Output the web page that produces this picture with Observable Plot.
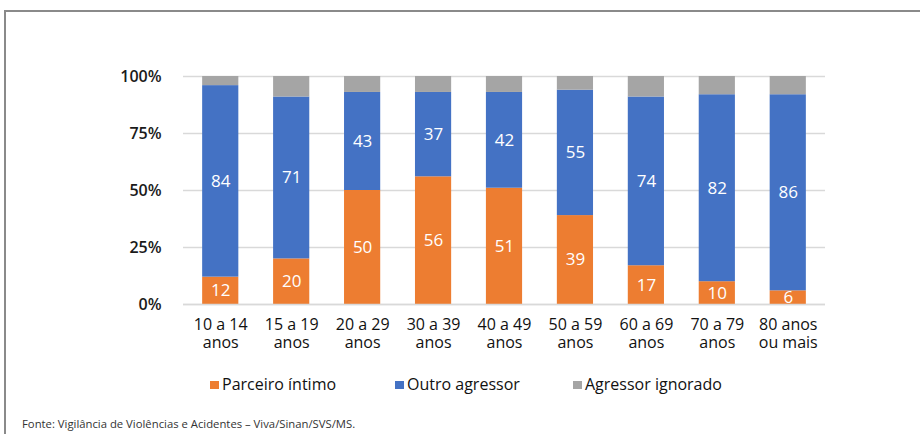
<!DOCTYPE html>
<html>
<head>
<meta charset="utf-8">
<script src="https://cdn.jsdelivr.net/npm/d3@7"></script>
<script src="https://cdn.jsdelivr.net/npm/@observablehq/plot@0.6"></script>
<style>
  html, body { margin: 0; padding: 0; background: #fff; }
  #wrap { position: relative; width: 920px; height: 434px; overflow: hidden; font-family: "Open Sans", sans-serif; }
  #frame { position: absolute; left: 4px; top: 10px; width: 940px; height: 440px; border-left: 2px solid #8a8a8a; border-top: 2px solid #8a8a8a; box-sizing: border-box; }
  #chart { position: absolute; left: 0; top: 0; }
  .leg { position: absolute; top: 374px; font-size: 16px; font-weight: 500; color: #111; white-space: nowrap; line-height: 20px; }
  .sw { display: inline-block; width: 9px; height: 8px; margin-right: 3px; vertical-align: 1px; }
  #caption { position: absolute; left: 22px; top: 416px; font-size: 11.3px; color: #333; white-space: nowrap; }
</style>
</head>
<body>
<div id="wrap">
  <div id="frame"></div>
  <div id="chart"></div>
  <div class="leg" style="left:210px"><span class="sw" style="background:#ED7D31"></span>Parceiro íntimo</div>
  <div class="leg" style="left:395px"><span class="sw" style="background:#4472C4"></span>Outro agressor</div>
  <div class="leg" style="left:573px"><span class="sw" style="background:#A5A5A5"></span>Agressor ignorado</div>
  <div id="caption">Fonte: Vigilância de Violências e Acidentes – Viva/Sinan/SVS/MS.</div>
</div>
<script>
const categories = ["10 a 14\nanos", "15 a 19\nanos", "20 a 29\nanos", "30 a 39\nanos", "40 a 49\nanos", "50 a 59\nanos", "60 a 69\nanos", "70 a 79\nanos", "80 anos\nou mais"];
const seriesNames = ["Parceiro íntimo", "Outro agressor", "Agressor ignorado"];
const parceiro = [12, 20, 50, 56, 51, 39, 17, 10, 6];
const outro = [84, 71, 43, 37, 42, 55, 74, 82, 86];
const ignorado = [4, 9, 7, 7, 7, 6, 9, 8, 8];
const colors = ["#ED7D31", "#4472C4", "#A5A5A5"];
const yTicks = [0, 25, 50, 75, 100];

const seriesValues = [parceiro, outro, ignorado];
const data = [];
seriesNames.forEach((s, si) => {
  categories.forEach((c, ci) => {
    data.push({cat: c, series: s, value: seriesValues[si][ci]});
  });
});

const chart = Plot.plot({
  width: 920,
  height: 360,
  marginTop: 76,
  marginBottom: 56,
  marginLeft: 183,
  marginRight: 95,
  style: {fontFamily: "Open Sans, sans-serif", background: "transparent"},
  x: {domain: categories, paddingInner: 0.49, paddingOuter: 0.27, round: false, label: null},
  y: {domain: [0, 100], label: null},
  color: {domain: seriesNames, range: colors},
  marks: [
    Plot.gridY(yTicks, {stroke: "#d9d9d9", strokeOpacity: 1, strokeWidth: 1.5}),
    Plot.axisY({ticks: yTicks, tickSize: 0, tickPadding: 22, tickFormat: d => d + "%", fontSize: 16, fontWeight: 600, fill: "#1a1a1a", label: null}),
    Plot.axisX({tickSize: 0, tickPadding: 13, fontSize: 16, fontWeight: 500, fill: "#111", label: null, lineHeight: 1.1}),
    Plot.barY(data, Plot.stackY({x: "cat", y: "value", fill: "series", order: seriesNames})),
    Plot.text(data, Plot.stackY({x: "cat", y: "value", z: "series", order: seriesNames,
      text: d => d.series === "Agressor ignorado" ? "" : String(d.value),
      fill: "white", fontSize: 17, fontWeight: 500})),
    Plot.ruleY([0], {stroke: "#d9d9d9", strokeWidth: 1.5})
  ]
});
document.getElementById("chart").appendChild(chart);
</script>
</body>
</html>
